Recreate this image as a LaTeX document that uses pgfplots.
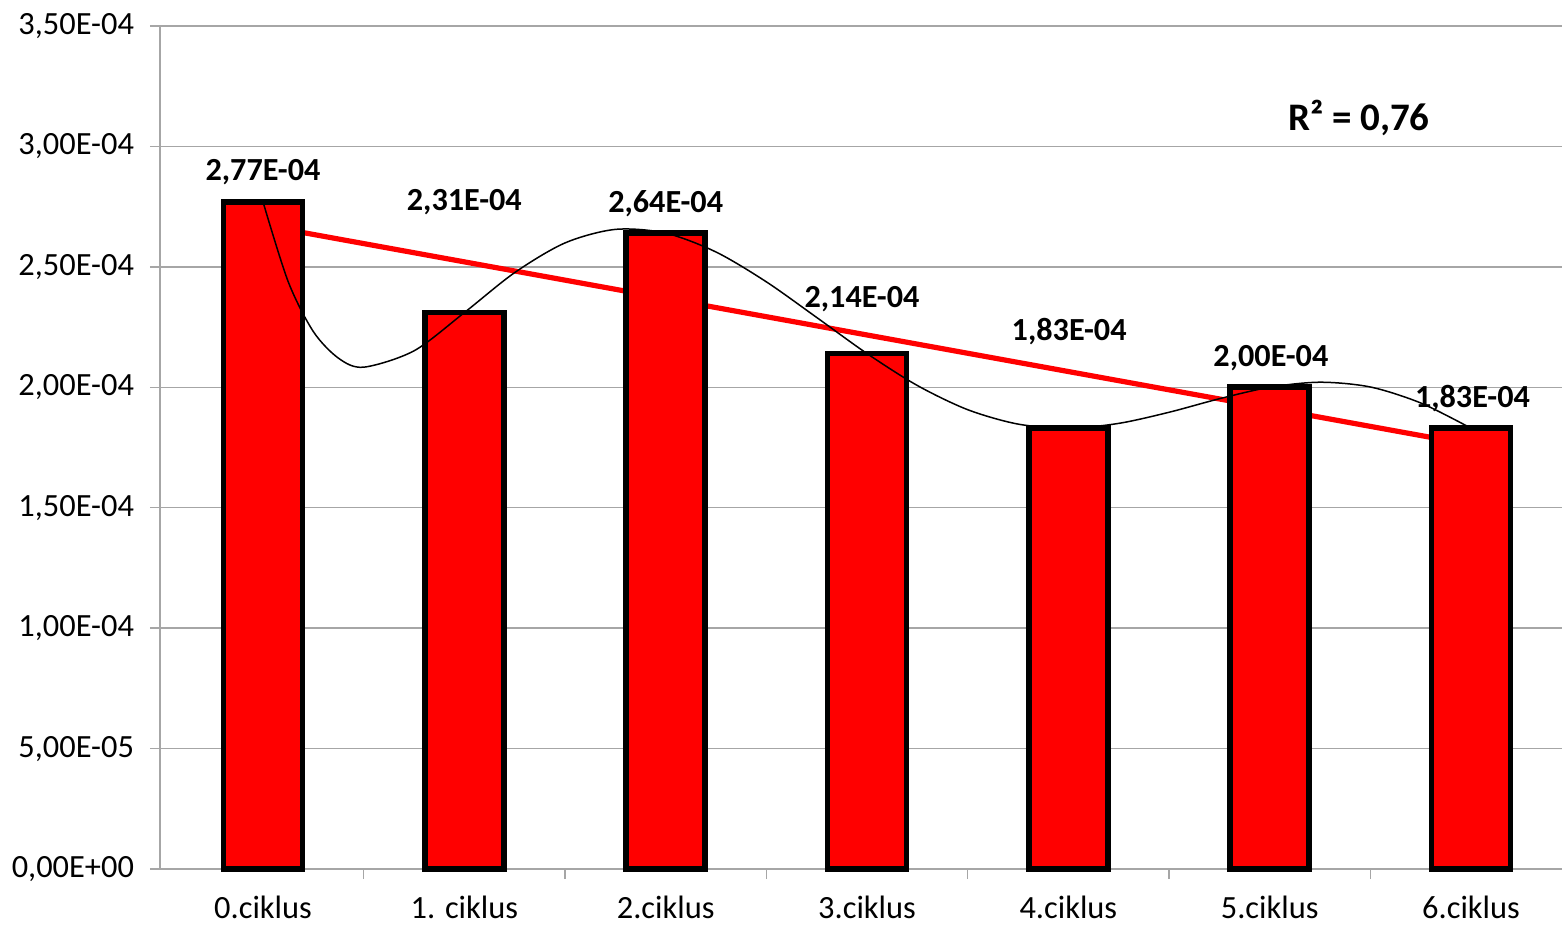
\documentclass[border=0pt]{standalone}
\usepackage{pgfplots}
\usepackage{pgfplotstable}
\pgfplotsset{compat=1.18}
\usepackage{fontspec}
\setmainfont{Carlito}
\pgfplotstableread{
x y
0 2.77e-4
1 2.31e-4
2 2.64e-4
3 2.14e-4
4 1.83e-4
5 2.00e-4
6 1.83e-4
}\datatable
% polynomial (6th order) trend curve, read at quarter steps
\pgfplotstableread{
x y
0 2.77e-4
0.125 2.4387e-4
0.25 2.2313e-4
0.375 2.1207e-4
0.5 2.0834e-4
0.75 2.1513e-4
1 2.31e-4
1.25 2.4761e-4
1.5 2.5993e-4
1.75 2.6555e-4
2 2.64e-4
2.25 2.5616e-4
2.5 2.4378e-4
2.75 2.2899e-4
3 2.14e-4
3.25 2.0074e-4
3.5 1.9070e-4
3.75 1.8472e-4
4 1.83e-4
4.25 1.8501e-4
4.5 1.8962e-4
4.75 1.9524e-4
5 2.00e-4
5.25 2.0210e-4
5.5 2.0012e-4
5.75 1.9349e-4
6 1.83e-4
}\polytable
\definecolor{gridgray}{RGB}{166,166,166}
\begin{document}
\begin{tikzpicture}
\path[use as bounding box] (0,0) rectangle (781pt,463pt);
\begin{axis}[
  at={(80pt,28.5pt)}, anchor=south west,
  scale only axis, width=701pt, height=421.5pt,
  xmin=-0.5116, xmax=6.452, ymin=0, ymax=3.5e-4,
  axis lines*=left,
  axis line style={draw=gridgray, line width=0.7pt},
  ytick={0,0.5e-4,1e-4,1.5e-4,2e-4,2.5e-4,3e-4,3.5e-4},
  yticklabels={{0,00E+00},{5,00E-05},{1,00E-04},{1,50E-04},{2,00E-04},{2,50E-04},{3,00E-04},{3,50E-04}},
  scaled y ticks=false,
  ymajorgrids, grid style={draw=gridgray, line width=0.7pt},
  xtick={0,...,6},
  xticklabels={0.ciklus,1. ciklus,2.ciklus,3.ciklus,4.ciklus,5.ciklus,6.ciklus},
  minor xtick={0.5,1.5,2.5,3.5,4.5,5.5},
  tick align=outside, major tick length=5pt, minor tick length=5pt,
  major x tick style={draw=none},
  tick style={draw=gridgray, line width=0.7pt},
  ticklabel style={font=\fontsize{16.2}{18}\selectfont, text=black},
  yticklabel style={xshift=-4.5pt},
  xticklabel style={inner sep=0pt, anchor=north, yshift=-8.5pt},
  clip=false,
]
\addplot[red, line width=2.6pt, no markers] table[x=x, y={create col/linear regression={y=y}}] \datatable;
\addplot[ybar, bar width=39.5pt, fill=red, draw=black, line width=2.8pt] table[x=x, y=y] \datatable;
\addplot[black, line width=0.75pt, smooth, no markers] table[x=x, y=y] \polytable;
\begin{scope}[every node/.style={font=\bfseries\fontsize{16.1}{18}\selectfont}]
\node at (axis cs:0,2.894e-4) {2,77E-04};
\node at (axis cs:1,2.769e-4) {2,31E-04};
\node at (axis cs:2,2.761e-4) {2,64E-04};
\node at (axis cs:2.975,2.367e-4) {2,14E-04};
\node at (axis cs:4.004,2.230e-4) {1,83E-04};
\node at (axis cs:5.006,2.122e-4) {2,00E-04};
\node at (axis cs:6.007,1.955e-4) {1,83E-04};
\end{scope}
\node[font=\bfseries\fontsize{19.5}{22}\selectfont] at (axis cs:5.443,3.118e-4) {R² = 0,76};
\end{axis}
\end{tikzpicture}
\end{document}
